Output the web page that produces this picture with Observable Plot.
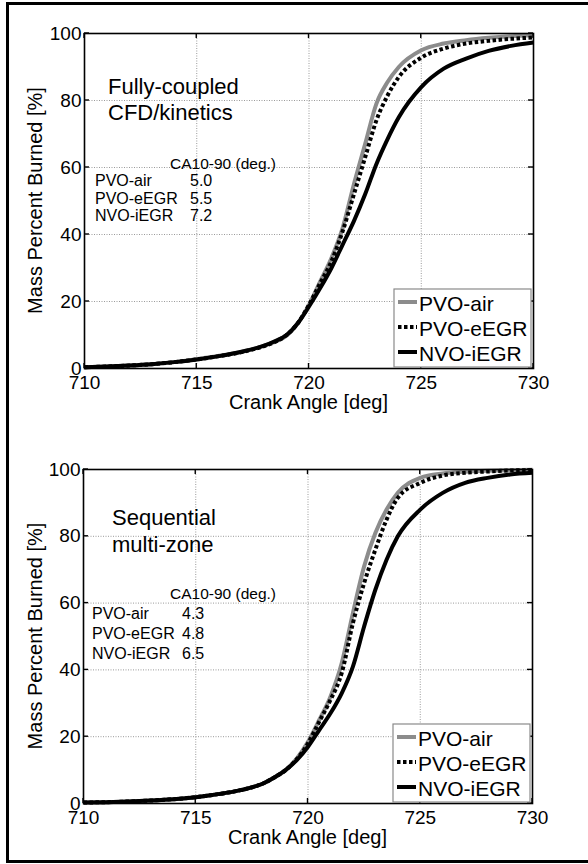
<!DOCTYPE html>
<html><head><meta charset="utf-8">
<script src="https://cdn.jsdelivr.net/npm/d3@7"></script>
<script src="https://cdn.jsdelivr.net/npm/@observablehq/plot@0.6"></script>
<style>
html,body{margin:0;padding:0;background:#fff;overflow:hidden;}
#fig{position:relative;width:588px;height:864px;overflow:hidden;font-family:"Liberation Sans",Arial,sans-serif;}
#border{position:absolute;left:6px;top:2px;width:640px;height:861px;border:3px solid #000;box-sizing:border-box;z-index:5;pointer-events:none;}
.panel{position:absolute;left:0;}
</style></head><body><div id="fig"><div id="border"></div></div>
<script>
// ---------- data ----------
const crankAngle = [710,711,712,713,714,715,716,717,718,718.5,719,719.5,720,720.5,721,721.5,722,722.5,723,723.5,724,725,726,727,728,729,730];
const seriesNames = ["PVO-air","PVO-eEGR","NVO-iEGR"];
// Fully-coupled CFD/kinetics
const cfdAir  = [0.4,0.6,0.9,1.3,1.9,2.8,3.8,5.0,6.8,8.0,9.8,13.5,19,26,33,42,55,67,79,85.5,90,95,97,98,98.7,99.2,99.5];
const cfdEgr  = [0.4,0.6,0.9,1.3,1.9,2.7,3.7,4.9,6.7,8.0,10,13.5,19,25.5,32,41,52,63,74,81.5,87,92.8,95.5,97,97.8,98.4,98.8];
const cfdIegr = [0.4,0.6,0.9,1.3,1.9,2.7,3.7,5.0,6.8,8.2,10,13.5,18.5,24,30,37,44,52,61,68.5,75,84,89.5,92.5,94.8,96.3,97.3];
// Sequential multi-zone
const smzAir  = [0.3,0.4,0.6,0.9,1.3,1.9,2.8,4.0,6.0,7.8,10,13.5,18.5,25,32,42,57,71,81,88,93,97.5,98.8,99.3,99.6,99.8,99.9];
const smzEgr  = [0.3,0.4,0.6,0.9,1.3,1.9,2.8,4.0,6.0,7.8,10,13.3,18,24.5,31,39,54,66,76,85,91.5,96,98.2,99,99.4,99.7,99.8];
const smzIegr = [0.3,0.4,0.6,0.9,1.3,1.9,2.8,4.0,6.0,7.8,10,13,17,22,27,33,41,53,64,73,80,88,93,96,97.5,98.5,99];
const cfdCA1090 = ["5.0","5.5","7.2"];
const smzCA1090 = ["4.3","4.8","6.5"];
const tableHeader = "CA10-90 (deg.)";
const panelTitles = [["Fully-coupled","CFD/kinetics"],["Sequential","multi-zone"]];
const xTicks = [710,715,720,725,730];
const yTicks = [0,20,40,60,80,100];
const xTitle = "Crank Angle [deg]";
const yTitle = "Mass Percent Burned [%]";

// ---------- styles / layout ----------
const FONT = '"Liberation Sans", Arial, sans-serif';
const seriesStyle = [
  {stroke:"#8c8c8c", dash:null},
  {stroke:"#000", dash:"3.5,2.5"},
  {stroke:"#000", dash:null}
];
const panels = [
  {top:0, mt:33, mb:62, ml:84, mr:55, series:[cfdAir,cfdEgr,cfdIegr], ca:cfdCA1090, title:panelTitles[0],
   titleX:24, titleY:[61,87], headX:86, headY:136, rowX:11, valX:106, rowY:[153,171,188]},
  {top:430, mt:39, mb:57, ml:83, mr:56, series:[smzAir,smzEgr,smzIegr], ca:smzCA1090, title:panelTitles[1],
   titleX:29, titleY:[56,83], headX:87, headY:130, rowX:9, valX:99, rowY:[150,170,190]}
];

function makePanel(p) {
  const rows = [];
  seriesNames.forEach((name, i) => p.series[i].forEach((v, j) => rows.push({angle: crankAngle[j], mfb: v, series: name})));
  const lines = seriesNames.map((name, i) => Plot.line(rows, {
    filter: d => d.series === name, x: "angle", y: "mfb",
    stroke: seriesStyle[i].stroke, strokeWidth: 4, strokeDasharray: seriesStyle[i].dash,
    strokeLinecap: "butt", curve: "monotone-x"
  }));
  const plot = Plot.plot({
    width: 588, height: 430,
    marginTop: p.mt, marginBottom: p.mb, marginLeft: p.ml, marginRight: p.mr,
    x: {domain: [710, 730], label: null},
    y: {domain: [0, 100], label: null},
    style: {fontFamily: FONT, fontSize: "19px", background: "transparent", color: "#000"},
    marks: [
      Plot.gridX(xTicks.slice(1, -1), {stroke: "#9a9a9a", strokeOpacity: 1, strokeDasharray: "1,1.5"}),
      Plot.gridY(yTicks.slice(1, -1), {stroke: "#9a9a9a", strokeOpacity: 1, strokeDasharray: "1,1.5"}),
      ...lines,
      Plot.frame({stroke: "#000", strokeWidth: 1.6}),
      Plot.axisX(xTicks, {tickSize: 0, tickPadding: 7, fontSize: 19, tickFormat: d => String(d), label: null}),
      Plot.axisY(yTicks, {tickSize: 0, tickPadding: 3, fontSize: 19, tickFormat: d => String(d), label: null})
    ]
  });
  const svg = d3.select(plot);
  const sx = plot.scale("x"), sy = plot.scale("y");
  const X = v => sx.apply(v), Y = v => sy.apply(v);
  const L = X(710), R = X(730), T = Y(100), B = Y(0);
  const g = svg.append("g").attr("font-family", FONT).attr("fill", "#000").attr("text-anchor", "start");
  // inward ticks on all four sides
  xTicks.forEach(v => {
    g.append("line").attr("x1", X(v)).attr("x2", X(v)).attr("y1", B).attr("y2", B - 5).attr("stroke", "#000").attr("stroke-width", 1.4);
    g.append("line").attr("x1", X(v)).attr("x2", X(v)).attr("y1", T).attr("y2", T + 5).attr("stroke", "#000").attr("stroke-width", 1.4);
  });
  yTicks.forEach(v => {
    g.append("line").attr("y1", Y(v)).attr("y2", Y(v)).attr("x1", L).attr("x2", L + 5).attr("stroke", "#000").attr("stroke-width", 1.4);
    g.append("line").attr("y1", Y(v)).attr("y2", Y(v)).attr("x1", R).attr("x2", R - 5).attr("stroke", "#000").attr("stroke-width", 1.4);
  });
  // axis titles
  g.append("text").attr("x", (L + R) / 2).attr("y", B + 41).attr("text-anchor", "middle").attr("font-size", 20).text(xTitle);
  g.append("text").attr("transform", `translate(42,${(T + B) / 2}) rotate(-90)`).attr("text-anchor", "middle").attr("font-size", 20).text(yTitle);
  // panel title
  p.title.forEach((t, i) => g.append("text").attr("x", L + p.titleX).attr("y", T + p.titleY[i]).attr("text-anchor", "start").attr("font-size", 22).text(t));
  // CA10-90 table
  g.append("text").attr("x", L + p.headX).attr("y", T + p.headY).attr("text-anchor", "start").attr("font-size", 15.5).text(tableHeader);
  seriesNames.forEach((name, i) => {
    g.append("text").attr("x", L + p.rowX).attr("y", T + p.rowY[i]).attr("text-anchor", "start").attr("font-size", 16).text(name);
    g.append("text").attr("x", L + p.valX).attr("y", T + p.rowY[i]).attr("text-anchor", "start").attr("font-size", 16).text(p.ca[i]);
  });
  // legend
  const lx = R - 139, ly = B - 79;
  g.append("rect").attr("x", lx).attr("y", ly).attr("width", 137).attr("height", 78)
    .attr("fill", "#fff").attr("stroke", "#8a8a8a").attr("stroke-width", 1.2);
  seriesNames.forEach((name, i) => {
    const by = ly + 21.5 + i * 25;
    const sw = g.append("line").attr("x1", lx + 4).attr("x2", lx + 23).attr("y1", by - 8.5).attr("y2", by - 8.5)
      .attr("stroke", seriesStyle[i].stroke).attr("stroke-width", 4).attr("stroke-linecap", "butt");
    if (seriesStyle[i].dash) sw.attr("stroke-dasharray", seriesStyle[i].dash);
    g.append("text").attr("x", lx + 25).attr("y", by).attr("text-anchor", "start").attr("font-size", 21).text(name);
  });
  plot.classList.add("panel");
  plot.style.top = p.top + "px";
  return plot;
}

const fig = document.getElementById("fig");
panels.forEach(p => fig.insertBefore(makePanel(p), document.getElementById("border")));
</script></body></html>
